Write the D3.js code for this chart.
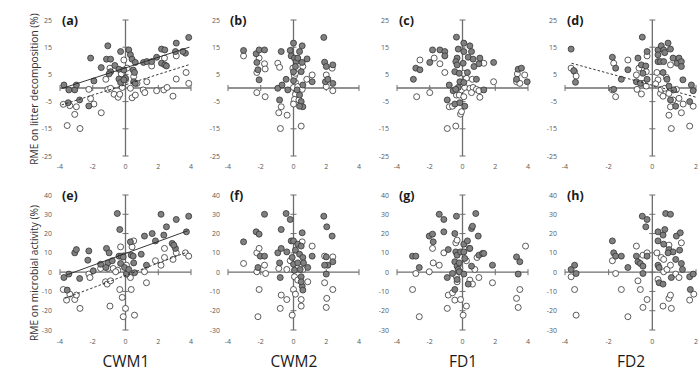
<!DOCTYPE html>
<html>
<head>
<meta charset="utf-8">
<script src="https://cdn.jsdelivr.net/npm/d3@7"></script>
<style>
  body { margin: 0; background: #fff; }
  svg { display: block; font-family: "Open Sans", "DejaVu Sans", sans-serif; }
</style>
</head>
<body>
<script>
// --- data: [x, y] pairs, filled (grey) and open (white) circles ---
var aFilled = [[-3.76,1.1],[-3.46,-0.7],[-3.1,-0.7],[-3.0,1.1],[-3.5,-5.4],[-2.8,-4.4],[-2.24,-6.6],[-2.13,11],[-1.93,2.6],[-1.48,7.5],[-1.16,10.6],[-1.08,15.5],[-0.91,10.6],[-0.91,6.0],[-0.65,8.3],[-1.0,5.2],[-0.4,6.9],[-0.3,13.4],[-0.4,3.3],[-0.3,2.0],[-0.1,6.6],[0.2,14],[0.3,12.2],[0.4,10.6],[0.47,6.6],[0.55,5.7],[0.6,9.4],[0.5,2.3],[0.6,1.7],[0,3.6],[-0.1,3.0],[1.1,9.4],[1.3,9.7],[1.6,9.7],[1.9,11.3],[2.2,14.3],[2.4,14],[2.2,9.1],[2.4,8.5],[2.5,8.1],[3.05,13.4],[3.1,16.5],[3.66,12.8],[3.86,18.6],[3.5,13.4]];
var aOpen = [[-3.8,-6],[-3.4,-6.5],[-3.0,-6.9],[-3.1,-9.7],[-3.56,-13.8],[-2.78,-14.9],[-2.24,-0.5],[-2.13,-3.9],[-1.93,-5.9],[-1.48,-9.1],[-1.2,3.2],[-1.08,-0.5],[-0.91,-0.1],[-0.95,7.3],[-0.7,-2.3],[-0.45,-3.4],[-0.35,-2.3],[-0.2,0.2],[-0.1,10.3],[-0.26,5.2],[0,3],[0.3,-0.1],[0.4,-3.6],[0.6,-2.6],[0.5,4.2],[0.7,1.7],[0.1,7.3],[1.08,-0.7],[1.18,-1.7],[1.3,2.3],[1.6,8.1],[1.9,-1],[2.34,-0.7],[2.54,0.2],[2.38,11],[2.9,-3],[3.1,3.3],[3.1,11.8],[3.7,5.7],[3.86,1.7]];

var bFilled = [[-3.05,13.8],[-2.28,12.6],[-2.1,14],[-1.77,14],[-2.24,9.4],[-2.17,6.7],[-2.1,3],[-0.75,13.4],[-0.96,-0.1],[-0.7,1.1],[-0.85,-4.4],[-0.35,-0.7],[-0.45,3.2],[-0.2,13.8],[-0.14,11.8],[0,16.5],[0.06,11],[0.16,9.7],[0.26,11],[0.37,13.4],[0.53,15.5],[0,6],[0,2.7],[0.12,7.9],[0.22,-0.7],[0.37,-2.6],[0.47,-5],[0.57,-6.9],[0.37,-6.7],[0.47,6],[0.53,9.4],[0.83,10.7],[0.57,1.1],[1.14,2.3],[1.85,18.6],[1.9,9.5],[2.0,7.9],[1.95,2.3],[2.1,3.2],[2.4,8.5],[2.4,1.7]];
var bOpen = [[-3.05,11.8],[-2.1,11],[-2.24,5.7],[-2.24,-1.7],[-1.77,8.9],[-1.73,7],[-1.73,-3.2],[-0.96,9.1],[-0.85,7.6],[-0.75,-6.9],[-0.9,-9.1],[-0.39,-10],[-0.8,-14.9],[-0.04,7.3],[0.06,4.4],[0.12,2],[0,0.2],[0.12,-2.3],[0.06,-4.2],[0,-5.9],[0.26,0.5],[0.33,-4.4],[0.53,-0.5],[0.47,-14],[0.57,7.9],[0.81,3.2],[1.14,4.8],[2.0,4.8],[2.0,0.5],[2.36,7.3],[2.4,-1],[0.12,5.4]];

var cFilled = [[-3.0,3.2],[-2.85,7.3],[-2.6,6.7],[-2.0,9.4],[-1.83,14],[-1.38,14],[-1.08,13.4],[-1.08,11.8],[-0.81,1.1],[-0.57,-1],[-0.93,-4.4],[-0.37,18.7],[-0.26,14.3],[-0.33,11],[-0.41,9.7],[-0.47,6],[-0.33,8.5],[-0.2,5.4],[-0.16,2.3],[-0.26,0.2],[-0.41,-0.5],[-0.47,-5.9],[-0.16,-5.4],[0.14,-6.7],[0.08,16.5],[0.08,13.4],[0.04,9.1],[0.08,2],[0.3,5.7],[0.35,11.3],[0.45,15.5],[0.55,13.4],[0.65,10.6],[0.7,7.9],[0.85,3.2],[1.0,8.9],[1.06,11],[1.3,-0.7],[1.9,9.4],[3.4,6.9],[3.6,7.3],[3.3,3.2],[3.95,2.3]];
var cOpen = [[-2.8,-3.2],[-2.6,10.3],[-2.0,-1.7],[-1.73,11],[-1.38,8.9],[-1.08,5.7],[-0.93,-14.9],[-0.81,-6.9],[-0.61,-6.7],[-0.41,-14],[-0.12,-9.6],[-0.06,-8.7],[-0.37,-2.6],[-0.2,-2.6],[-0.06,-0.7],[0.08,-3.2],[0.14,0.2],[0.24,3.6],[0.45,-0.1],[0.6,3.2],[0.65,0.2],[0.55,-1.7],[0.85,-0.5],[1.0,-1],[1.06,-3.4],[1.3,9.1],[1.9,2.3],[3.3,2.3],[3.5,1.7],[3.8,4.8],[3.35,5.2],[0.08,5.4]];

var dFilled = [[-3.72,14.3],[-3.6,6.4],[-3.52,2.1],[-1.83,11.3],[-1.68,7.3],[-1.77,-0.5],[-1.42,3.2],[-1.12,6.7],[-0.66,11],[-0.73,2.3],[-0.46,18.7],[-0.5,8.5],[-0.3,8.1],[-0.43,5.4],[-0.24,13.4],[-0.24,3.2],[-0.55,1.7],[0.26,14],[0.26,12.2],[0.26,9.7],[0.41,15.5],[0.52,14],[0.57,13],[0.72,16.5],[0.83,14.3],[0.37,9.7],[0.52,9.7],[0.49,5.7],[0.67,3.2],[0.95,11],[1.13,9.1],[1.22,11],[1.33,9.7],[1.33,7.9],[1.4,3],[0.83,-4.4],[1.07,-6.7],[0.98,-0.7],[1.71,-5],[1.79,1.1],[1.87,-1],[0.76,0.7]];
var dOpen = [[-3.72,7.3],[-3.56,6],[-3.49,4.4],[-1.83,-0.7],[-1.77,9.1],[-1.68,-3.2],[-1.12,10.3],[-0.73,4.8],[-0.61,7.3],[-0.7,-0.5],[-0.5,-2.2],[-0.43,1.7],[-0.28,0.7],[-0.24,11.8],[-0.28,6],[0.21,5.7],[0.26,3],[0.37,-2],[0.49,-3],[0.41,-0.5],[0.57,-0.1],[0.76,-2],[0.83,8.5],[0.83,-6.9],[0.76,-10],[0.87,-14.9],[1.1,-0.5],[1.22,-3.8],[1.33,-9.1],[1.41,-5.9],[1.71,-14],[1.87,-6.7],[0.95,-4.4],[0.15,1.5],[0.64,3.9]];

var eFilled = [[-3.76,-2.8],[-3.46,-1],[-3.56,-9.3],[-3.1,10],[-3.0,11.7],[-2.8,-3.3],[-2.24,11],[-2.3,6.2],[-1.97,0.7],[-1.52,4.1],[-1.16,12.3],[-1.0,10],[-1.08,4.8],[-0.81,5.9],[-1.2,2.4],[-0.5,30.4],[-0.35,22.1],[-0.4,8.3],[-0.26,8.3],[-0.14,7.9],[-0.3,4.5],[-0.06,2.4],[0.06,-1],[0.3,15.7],[0.35,8.8],[0.47,8.3],[0.5,4.8],[0.2,1.4],[0.55,-0.3],[0.96,9.3],[1.16,18.7],[1.28,3.6],[1.63,20],[2.17,30],[2.34,19.2],[2.5,23.5],[2.85,14.9],[3.05,12.3],[3.1,27.3],[2.95,14],[3.72,20.9],[3.86,29],[1.83,16.2]];
var eOpen = [[-3.8,-9],[-3.6,-14.5],[-3.4,-11.4],[-3.1,-14.2],[-3.0,-11.9],[-2.78,-18.8],[-2.24,-1],[-2.17,-2.8],[-1.52,1.9],[-1.22,-5],[-1.12,-6.2],[-0.91,-4.5],[-0.95,-17.6],[-1.08,1.9],[-0.75,1.9],[-0.47,1],[-0.35,-9],[-0.3,13.1],[-0.2,-13.1],[-0.14,-23.1],[0,-18.8],[0.06,3.6],[0.1,-1],[0.3,-2.8],[0.35,-9],[0.5,16.2],[0.55,-22.3],[0.4,13.1],[1.16,0.2],[1.28,-5.5],[1.83,5.9],[2.17,3.6],[2.38,7.6],[2.38,12.3],[2.9,6.6],[3.1,10],[3.66,10],[3.86,8.3],[-0.6,0.2]];

var fFilled = [[-3.05,15.7],[-2.28,20.9],[-2.1,19.7],[-1.77,30],[-2.17,2.4],[-2.03,8.3],[-1.77,8.3],[-0.96,10],[-0.85,4.8],[-0.75,12.3],[-0.75,22.1],[-0.81,-2.8],[-0.45,30.4],[-0.2,27.3],[-0.41,10.5],[-0.14,16.2],[0,16.2],[0.12,11.4],[-0.08,7.6],[0,4.1],[0.06,1],[0.26,14.5],[0.37,9.3],[0.47,13.5],[0.53,20.4],[0.57,7.6],[0.61,4.8],[0.26,4.8],[0.41,1.4],[0.47,-2.4],[0.53,-7.3],[0.57,-9.3],[0.47,-5],[0.87,2.4],[1.14,8.3],[1.85,29],[2.03,23.5],[2.0,7.9],[2.1,3.6],[2.0,-1],[2.36,18.7],[2.4,5.4],[1.9,3.6]];
var fOpen = [[-3.05,4.5],[-2.24,10],[-2.1,12.3],[-2.24,0.2],[-2.1,-9],[-2.17,-23.1],[-1.77,3.6],[-1.7,-0.7],[-0.9,1.9],[-0.75,-11.9],[-0.81,-18.8],[-0.41,1.4],[-0.41,-14.2],[-0.08,-22.3],[0,-9],[0.12,-11.4],[-0.2,5.9],[0.06,-2.4],[0.26,-4.1],[0.47,-14.2],[0.47,-17.6],[0.53,15.7],[0.57,1.4],[0.87,-5],[1.14,13.5],[1.9,8.3],[1.9,-5.5],[2.03,-13.6],[2.0,-18.3],[2.4,7.9],[2.4,-9]];

var gFilled = [[-3.05,8.3],[-2.85,8.3],[-2.64,2.4],[-2.03,18.7],[-1.83,19.7],[-1.79,15.7],[-1.42,30],[-1.14,27.3],[-1.14,20.9],[-0.87,11.7],[-0.93,-2.8],[-0.61,-0.7],[-0.47,20],[-0.37,29],[-0.41,10.5],[-0.33,8.8],[-0.47,5.4],[-0.33,3.1],[-0.26,1.4],[-0.47,-9],[-0.33,-3.8],[-0.2,0.2],[-0.12,10.5],[0.08,14.5],[0.08,10.5],[0.14,7.1],[0.08,-1],[0.3,16.2],[0.45,12.3],[0.35,-6.2],[0.55,3.1],[0.55,22.6],[0.61,23.8],[0.81,30.4],[0.96,18.7],[1.0,8.8],[1.22,9.7],[1.3,9.7],[1.83,3.6],[3.3,7.9],[3.5,5.4],[3.4,-1],[-0.2,4.8]];
var gOpen = [[-3.05,-9],[-2.85,-0.7],[-2.64,-23.1],[-2.03,0.2],[-1.83,12.3],[-1.79,4.8],[-1.42,3.6],[-1.14,10],[-0.93,-18.8],[-0.87,-11.9],[-0.61,-10.7],[-0.47,-14.5],[-0.41,15.2],[-0.33,16.6],[-0.33,-5],[-0.37,-2.4],[-0.12,-14.2],[0.04,-22.3],[0.24,-17.6],[0.24,5.9],[0.41,12.3],[0.45,-4.1],[0.61,-6.2],[0.75,1.4],[0.89,7.6],[1.0,-2.8],[1.83,-5.5],[3.3,-13.6],[3.4,-18.3],[3.5,-9],[-0.16,1.9],[3.85,13.5]];

var hFilled = [[-3.72,1.4],[-3.56,3.6],[-3.49,-0.7],[-1.83,16.2],[-1.77,10],[-1.68,8.3],[-1.42,8.3],[-1.12,2.4],[-0.73,8.3],[-0.66,5.4],[-0.55,4.5],[-0.46,29],[-0.24,27.3],[-0.3,23.5],[-0.43,3.1],[-0.43,-0.7],[-0.24,8.3],[0.26,20.9],[0.26,16.2],[0.26,3.6],[0.31,2.4],[0.49,19.2],[0.57,22.1],[0.52,14.5],[0.61,30.4],[0.83,30],[0.76,11.7],[0.95,10.5],[1.1,18.7],[1.25,11.4],[1.28,20.4],[1.07,6.6],[1.33,4.5],[1.38,1.4],[0.31,-5.5],[0.49,-6.2],[0.87,-2.8],[1.71,-2.4],[1.74,-9],[1.87,-1],[0.72,10]];
var hOpen = [[-3.72,-2.4],[-3.56,-9],[-3.49,-22.3],[-1.83,5.9],[-1.68,-0.7],[-1.42,-9],[-1.12,-23.1],[-0.73,13.5],[-0.66,-4.5],[-0.55,-9],[-0.43,8.8],[-0.43,-18.3],[-0.24,10],[-0.24,-14.2],[0.21,10],[0.26,-3.8],[0.41,7.6],[0.52,6.6],[0.52,0.2],[0.49,-17.6],[0.67,1.4],[0.76,14],[0.76,-13.6],[0.83,-11.9],[0.87,-18.8],[1.07,-1],[1.22,-2.8],[1.33,15.2],[1.71,-14.5],[1.9,-11.4],[0.83,3.6]];

// fitted lines: [x from, x to, intercept, slope]
var aSolidFit = [-3.9, 3.9, 7.4, 1.95];
var aDashFit = [-3.9, 3.9, 1.2, 1.9];
var dDashFit = [-3.7, 2.0, 1.0, -2.19];
var eSolidFit = [-3.6, 3.8, 9.7, 3.1];
var eDashFit = [-3.7, 3.8, -1.7, 3.21];

var topTicks = [-25, -15, -5, 5, 15, 25];
var bottomTicks = [-30, -20, -10, 0, 10, 20, 30, 40];
var xTicksWide = [-4, -2, 0, 2, 4];
var xTicksFD2 = [-4, -2, 0, 2];
var xTitles = ["CWM1", "CWM2", "FD1", "FD2"];
var yTitles = ["RME on litter decomposition (%)", "RME on microbial activity (%)"];

var panels = [
  {lab: "(a)", row: 0, col: 0, filled: aFilled, open: aOpen, fits: [[aSolidFit, false], [aDashFit, true]]},
  {lab: "(b)", row: 0, col: 1, filled: bFilled, open: bOpen, fits: []},
  {lab: "(c)", row: 0, col: 2, filled: cFilled, open: cOpen, fits: []},
  {lab: "(d)", row: 0, col: 3, filled: dFilled, open: dOpen, fits: [[dDashFit, true]]},
  {lab: "(e)", row: 1, col: 0, filled: eFilled, open: eOpen, fits: [[eSolidFit, false], [eDashFit, true]]},
  {lab: "(f)", row: 1, col: 1, filled: fFilled, open: fOpen, fits: []},
  {lab: "(g)", row: 1, col: 2, filled: gFilled, open: gOpen, fits: []},
  {lab: "(h)", row: 1, col: 3, filled: hFilled, open: hOpen, fits: []}
];

var W = 700, H = 383;
var colX = [60, 228, 397, 565];
var plotW = 131;
var rows = [
  {domain: [-25, 25], range: [156, 20], ticks: topTicks, tickLabY: 166},
  {domain: [-30, 40], range: [330, 195], ticks: bottomTicks, tickLabY: 341}
];
var axisCol = "#6e6e6e", labCol = "#595959";

var svg = d3.select("body").append("svg")
  .attr("width", W)
  .attr("height", H);

panels.forEach(function (p) {
  var r = rows[p.row];
  var xt = p.col === 3 ? xTicksFD2 : xTicksWide;
  var x = d3.scaleLinear()
    .domain(p.col === 3 ? [-4, 2] : [-4, 4])
    .range([colX[p.col], colX[p.col] + plotW]);
  var y = d3.scaleLinear().domain(r.domain).range(r.range);
  var g = svg.append("g");

  // crossing axes, Excel style
  g.append("line")
    .attr("x1", x.range()[0]).attr("x2", x.range()[1])
    .attr("y1", y(0)).attr("y2", y(0))
    .attr("stroke", axisCol).attr("stroke-width", 1.3);
  g.append("line")
    .attr("x1", x(0)).attr("x2", x(0))
    .attr("y1", r.range[0]).attr("y2", r.range[1])
    .attr("stroke", axisCol).attr("stroke-width", 1.3);
  g.selectAll(".xt").data(xt).enter().append("line")
    .attr("x1", function (d) { return x(d); }).attr("x2", function (d) { return x(d); })
    .attr("y1", y(0) - 3).attr("y2", y(0) + 3)
    .attr("stroke", axisCol);
  g.selectAll(".yt").data(r.ticks).enter().append("line")
    .attr("x1", x(0) - 3).attr("x2", x(0) + 3)
    .attr("y1", function (d) { return y(d); }).attr("y2", function (d) { return y(d); })
    .attr("stroke", axisCol);

  // tick labels along the panel's outer edges
  g.selectAll(".xl").data(xt).enter().append("text")
    .attr("x", function (d) { return x(d); })
    .attr("y", r.tickLabY + 2.5)
    .attr("text-anchor", "middle")
    .attr("font-size", 7).attr("fill", labCol)
    .text(function (d) { return d; });
  g.selectAll(".yl").data(r.ticks).enter().append("text")
    .attr("x", colX[p.col] - 8)
    .attr("y", function (d) { return y(d) + 2.5; })
    .attr("text-anchor", "end")
    .attr("font-size", 7).attr("fill", labCol)
    .text(function (d) { return d; });

  g.append("text")
    .attr("x", colX[p.col] + 2)
    .attr("y", r.range[1] + 5)
    .attr("font-size", 12.5).attr("font-weight", "bold")
    .attr("fill", "#1a1a1a")
    .text(p.lab);

  // points
  g.selectAll(".op").data(p.open).enter().append("circle")
    .attr("cx", function (d) { return x(d[0]); })
    .attr("cy", function (d) { return y(d[1]); })
    .attr("r", 3)
    .attr("fill", "#fff").attr("stroke", "#333").attr("stroke-width", 0.8);
  g.selectAll(".fp").data(p.filled).enter().append("circle")
    .attr("cx", function (d) { return x(d[0]); })
    .attr("cy", function (d) { return y(d[1]); })
    .attr("r", 3)
    .attr("fill", "#808080").attr("stroke", "#333").attr("stroke-width", 0.8);

  // regression lines
  p.fits.forEach(function (f) {
    var fit = f[0];
    g.append("line")
      .attr("x1", x(fit[0])).attr("y1", y(fit[2] + fit[3] * fit[0]))
      .attr("x2", x(fit[1])).attr("y2", y(fit[2] + fit[3] * fit[1]))
      .attr("stroke", "#222").attr("stroke-width", 0.9)
      .attr("stroke-dasharray", f[1] ? "2.5,2" : null);
  });
});

// axis titles
xTitles.forEach(function (t, i) {
  svg.append("text")
    .attr("x", colX[i] + 66)
    .attr("y", 367)
    .attr("text-anchor", "middle")
    .attr("font-size", 15.5).attr("fill", "#1a1a1a")
    .text(t);
});
yTitles.forEach(function (t, i) {
  svg.append("text")
    .attr("transform", "translate(38," + (i === 0 ? 89 : 273) + ") rotate(-90)")
    .attr("text-anchor", "middle")
    .attr("font-size", 10.2).attr("fill", "#333")
    .text(t);
});
</script>
</body>
</html>
